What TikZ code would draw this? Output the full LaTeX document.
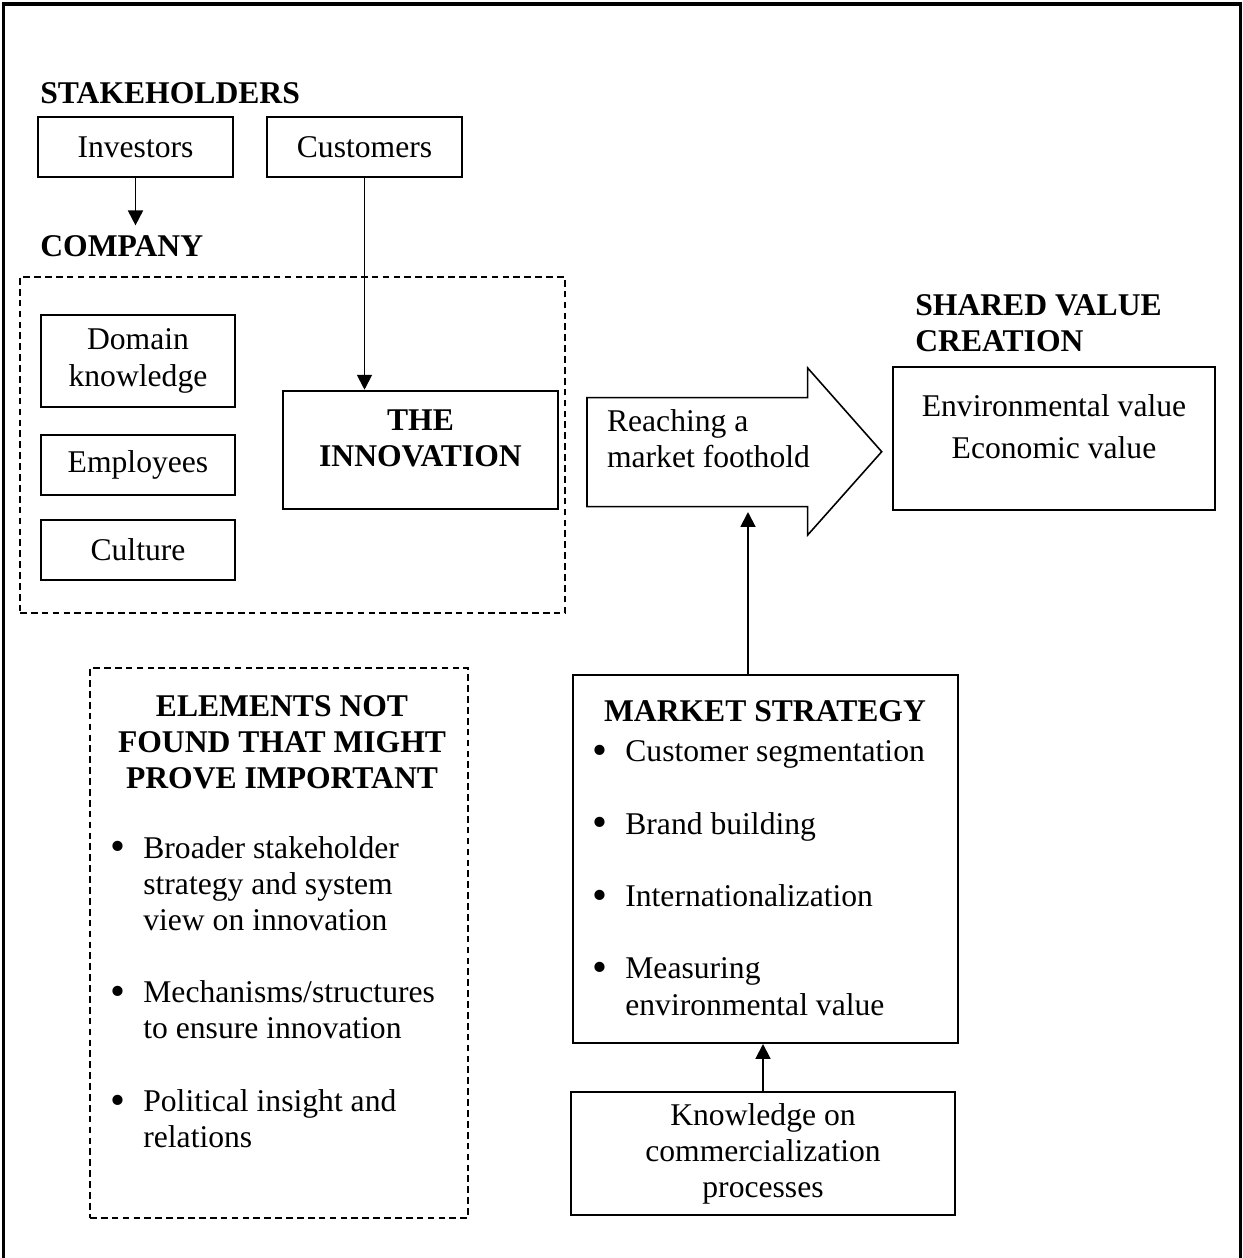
\documentclass[tikz,border=0pt]{standalone}
\usepackage{graphicx}
\usepackage{fontspec}
\setmainfont{Liberation Serif}
\usetikzlibrary{arrows.meta,fit,positioning}
\newcommand{\diafont}{\fontsize{18}{20.6}\selectfont}
\newcommand{\bul}{\makebox[0.65cm][l]{\raisebox{-0.09em}{\scalebox{1.35}{\textbullet}}}}
\tikzset{
	box/.style={draw, line width=1.1pt, inner sep=0pt, font=\diafont, align=center},
	boxsize/.style 2 args={minimum width=#1*0.02cm, minimum height=#2*0.02cm},
	dashbox/.style={draw, line width=1pt, dash pattern=on 3.8pt off 2.4pt, inner sep=0pt},
	heading/.style={font=\diafont\bfseries, inner sep=0pt, anchor=base west},
	plain/.style={font=\diafont, inner sep=0pt},
	link/.style={line width=1.1pt, -{Triangle[length=8.5pt,width=8.5pt]}}
}
\begin{document}
\begin{tikzpicture}[x=0.02cm, y=-0.02cm]
	\useasboundingbox (0,0) rectangle (1242,1258);
	\draw[line width=1.8pt] (3.3,1275) -- (3.3,4) -- (1240.3,4) -- (1240.3,1275);

	% stakeholders
	\node[heading] (stakelbl) at (40,103) {STAKEHOLDERS};
	\node[box, boxsize={195}{60}] (investors) at (135.5,147) {Investors};
	\node[box, boxsize={195}{60}] (customers) at (364.5,147) {Customers};

	% company
	\node[heading] (complbl) at (40,256.7) {COMPANY};
	\node[dashbox, fit={(20,277) (565,613)}] (company) {};
	\node[box, boxsize={194}{92}] (domain) at (138,361) {Domain\\knowledge};
	\node[box, boxsize={194}{60}] (employees) at (138,465) {Employees};
	\node[box, boxsize={194}{60}] (culture) at (138,550) {Culture};
	\node[box, fit={(283,390.7) (558,509)}] (innovation) {};
	\node[heading, anchor=base] (innovtext) at (420.5,430) {\begin{tabular}[t]{@{}c@{}}THE\\INNOVATION\end{tabular}};

	% market foothold arrow
	\draw[line width=0.9pt] (587,397.7) -- (807.7,397.7) -- (807.7,368) -- (881.7,451.7)
		-- (807.7,535) -- (807.7,506.7) -- (587,506.7) -- cycle;
	\node[plain, anchor=base west] (foothold) at (606.7,431.7) {\begin{tabular}[t]{@{}l@{}}Reaching a\\market foothold\end{tabular}};
	\coordinate (footbase) at (748,512);

	% shared value
	\node[heading] (sharedlbl) at (915,315) {\begin{tabular}[t]{@{}l@{}}SHARED VALUE\\CREATION\end{tabular}};
	\node[box, fit={(893,367) (1215,510)}] (value) {};
	\node[plain, anchor=base] (valuetext) at (1054,416.7) {\begin{tabular}[t]{@{}c@{}}Environmental value\\[3.4pt]Economic value\end{tabular}};

	% market strategy
	\node[box, fit={(572.7,675) (958,1043)}] (strategy) {};
	\node[heading, anchor=base] (strategylbl) at (765,721) {MARKET STRATEGY};
	\node[plain, anchor=base west] (strategylist) at (592.5,761.7) {\begin{tabular}[t]{@{}l@{}l@{}}
		\bul & Customer segmentation\\ \\
		\bul & Brand building\\ \\
		\bul & Internationalization\\ \\
		\bul & Measuring\\
		& environmental value
	\end{tabular}};
	\node[box, fit={(571,1092) (955,1215)}] (knowledge) {};
	\node[plain, anchor=base] (knowtext) at (763,1125) {\begin{tabular}[t]{@{}c@{}}Knowledge on\\commercialization\\processes\end{tabular}};

	% elements not found
	\node[dashbox, fit={(90,668) (468,1218)}] (missing) {};
	\node[heading, anchor=base] (missinglbl) at (282,716) {\begin{tabular}[t]{@{}c@{}}ELEMENTS NOT\\FOUND THAT MIGHT\\PROVE IMPORTANT\end{tabular}};
	\node[plain, anchor=base west] (missinglist) at (110.5,858) {\begin{tabular}[t]{@{}l@{}l@{}}
		\bul & Broader stakeholder\\
		& strategy and system\\
		& view on innovation\\ \\
		\bul & Mechanisms/structures\\
		& to ensure innovation\\ \\
		\bul & Political insight and\\
		& relations
	\end{tabular}};

	% links
	\draw[link, shorten >=5.7pt] (investors.south) -- (investors.south |- complbl.north);
	\draw[link] (customers.south) -- (customers.south |- innovation.north);
	\draw[link] (strategy.north -| footbase) -- (footbase);
	\draw[link] (knowledge.north) -- (knowledge.north |- strategy.south);
\end{tikzpicture}
\end{document}
